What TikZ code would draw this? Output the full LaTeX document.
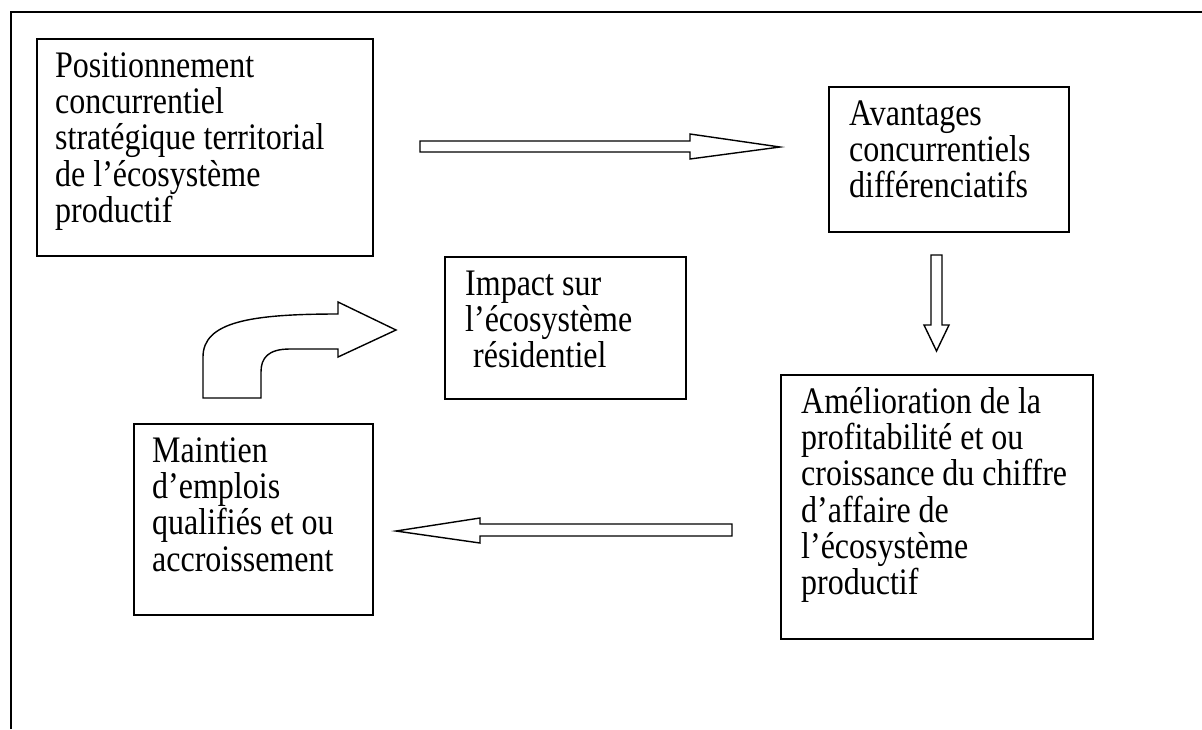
\documentclass[tikz,border=0pt]{standalone}
\usepackage{graphicx}
\usepackage{fontspec}
\setmainfont{Liberation Serif}
% multi-line text block, set slightly taller than wide
\newcommand\tallpar[2]{\scalebox{1}[1.17]{\parbox[t]{#1}{\raggedright #2}}}
\begin{document}
\begin{tikzpicture}[x=1pt,y=-1pt,
  frame/.style={line width=2pt},
  box/.style={draw, line width=1.8pt, anchor=north west, inner sep=0pt},
  txt/.style={anchor=base west, inner sep=0pt,
    font=\fontsize{32}{31.1}\selectfont},
  blockarrow/.style={draw, line width=1.4pt, fill=white, line join=miter}]
\useasboundingbox (0,0) rectangle (1202,729);

% outer frame: top and left rules
\draw[frame] (11,729) -- (11,12) -- (1202,12);

% boxes
\node[box, minimum width=336pt, minimum height=217pt] (pos) at (36,38) {};
\node[box, minimum width=240pt, minimum height=145pt] (avt) at (828,86) {};
\node[box, minimum width=312pt, minimum height=264pt] (ame) at (780,374) {};
\node[box, minimum width=239pt, minimum height=191pt] (mai) at (133,423) {};
\node[box, minimum width=241pt, minimum height=142pt] (imp) at (444,256) {};

% box texts
\node[txt] (tpos) at (55,77) {\tallpar{310pt}{%
  Positionnement\\concurrentiel\\stratégique territorial\\de l’écosystème\\productif}};
\node[txt] (tavt) at (849,125) {\tallpar{215pt}{%
  Avantages\\concurrentiels\\différenciatifs}};
\node[txt] (tame) at (801,413) {\tallpar{290pt}{%
  Amélioration de la\\profitabilité et ou\\croissance du chiffre\\d’affaire de\\l’écosystème\\productif}};
\node[txt] (tmai) at (152,462) {\tallpar{215pt}{%
  Maintien\\d’emplois\\qualifiés et ou\\accroissement}};
\node[txt] (timp) at (465,295) {\tallpar{215pt}{%
  Impact sur\\l’écosystème\\\hspace*{8pt}résidentiel}};

% block arrow: positioning -> advantages
\draw[blockarrow] (420,141) -- (690,141) -- (690,134) -- (780,147)
  -- (690,159) -- (690,152) -- (420,152) -- cycle;

% block arrow: advantages -> improvement
\draw[blockarrow] (931,255) -- (942,255) -- (942,325) -- (949,325)
  -- (936.5,351) -- (924,325) -- (931,325) -- cycle;

% block arrow: improvement -> jobs
\draw[blockarrow] (732,524) -- (480,524) -- (480,518) -- (396,531)
  -- (480,543) -- (480,536) -- (732,536) -- cycle;

% bent block arrow: jobs -> residential impact
\draw[blockarrow] (203,398) -- (203,357)
  .. controls (203,322) and (250,314) .. (338,314)
  -- (338,302) -- (396,330) -- (338,357) -- (338,349) -- (290,349)
  .. controls (268,349) and (261,358) .. (261,372)
  -- (261,398) -- cycle;
\end{tikzpicture}
\end{document}
